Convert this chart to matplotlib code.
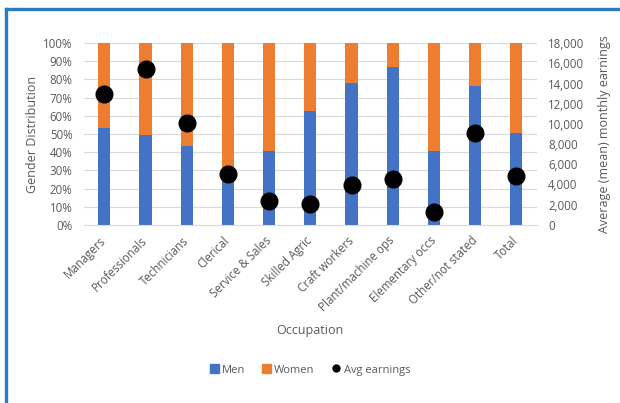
import numpy as np
import matplotlib.pyplot as plt
from matplotlib.lines import Line2D
from matplotlib.patches import Patch

occupations = ['Managers', 'Professionals', 'Technicians', 'Clerical', 'Service & Sales',
               'Skilled Agric', 'Craft workers', 'Plant/machine ops', 'Elementary occs',
               'Other/not stated', 'Total']
men_pct = [53.5, 49.5, 43.5, 28.5, 40.5, 62.5, 78, 87, 40.5, 76.5, 50.5]
women_pct = [100 - m for m in men_pct]
avg_earnings = [13000, 15400, 10100, 5050, 2400, 2100, 3900, 4550, 1250, 9100, 4800]

plt.rcParams['font.family'] = ['Open Sans', 'DejaVu Sans']
text_col = '#595959'
blue = '#4472C4'
orange = '#ED7D31'

fig = plt.figure(figsize=(6.2, 4.03), dpi=100)
ax = fig.add_axes([0.135, 0.442, 0.731, 0.451])
x = np.arange(len(occupations))

ax.bar(x, men_pct, width=0.3, color=blue, zorder=2)
ax.bar(x, women_pct, width=0.3, bottom=men_pct, color=orange, zorder=2)
ax.set_ylim(0, 100)
ax.set_xlim(-0.5, len(occupations) - 0.5)
ax.set_yticks(np.arange(0, 101, 10))
ax.set_yticklabels([f'{v}%' for v in range(0, 101, 10)])
ax.grid(axis='y', color='#d9d9d9', linewidth=0.8, zorder=0)
ax.set_xticks(x)
ax.set_xticklabels(occupations, rotation=45, ha='right', va='center', rotation_mode='anchor')
for s in ['top', 'left', 'right']:
    ax.spines[s].set_visible(False)
ax.spines['bottom'].set_color('#d9d9d9')
ax.tick_params(length=0, colors=text_col, labelsize=8.3)
ax.tick_params(axis='y', pad=8)
ax.tick_params(axis='x', pad=10)
ax.set_ylabel('Gender Distribution', color=text_col, fontsize=9, labelpad=3)
ax.set_xlabel('Occupation', color=text_col, fontsize=9, labelpad=7)

ax2 = ax.twinx()
ax2.plot(x, avg_earnings, 'o', color='black', markersize=12, zorder=3)
ax2.set_ylim(0, 18000)
ax2.set_yticks(np.arange(0, 18001, 2000))
ax2.set_yticklabels([f'{v:,}' for v in range(0, 18001, 2000)])
for s in ['top', 'left', 'right', 'bottom']:
    ax2.spines[s].set_visible(False)
ax2.tick_params(length=0, colors=text_col, labelsize=8.3, pad=8)
ax2.set_ylabel('Average (mean) monthly earnings', color=text_col, fontsize=9, labelpad=10)

handles = [Patch(color=blue, label='Men'), Patch(color=orange, label='Women'),
           Line2D([], [], marker='o', color='black', linestyle='none', markersize=5, label='Avg earnings')]
leg = fig.legend(handles=handles, loc='center', bbox_to_anchor=(0.5, 0.082), ncol=3, frameon=False,
                 fontsize=8, handlelength=0.8, handleheight=0.8, handletextpad=0.3, columnspacing=1.5)
for t in leg.get_texts():
    t.set_color(text_col)

# blue frame on top and left edges
border = '#2E7CC0'
fig.add_artist(Line2D([5.5 / 620, 1], [1 - 8.5 / 403, 1 - 8.5 / 403], color=border, linewidth=2.4,
                      transform=fig.transFigure))
fig.add_artist(Line2D([5.5 / 620, 5.5 / 620], [0, 1 - 8.5 / 403], color=border, linewidth=2.4,
                      transform=fig.transFigure))

fig.savefig('out.png', dpi=100)
